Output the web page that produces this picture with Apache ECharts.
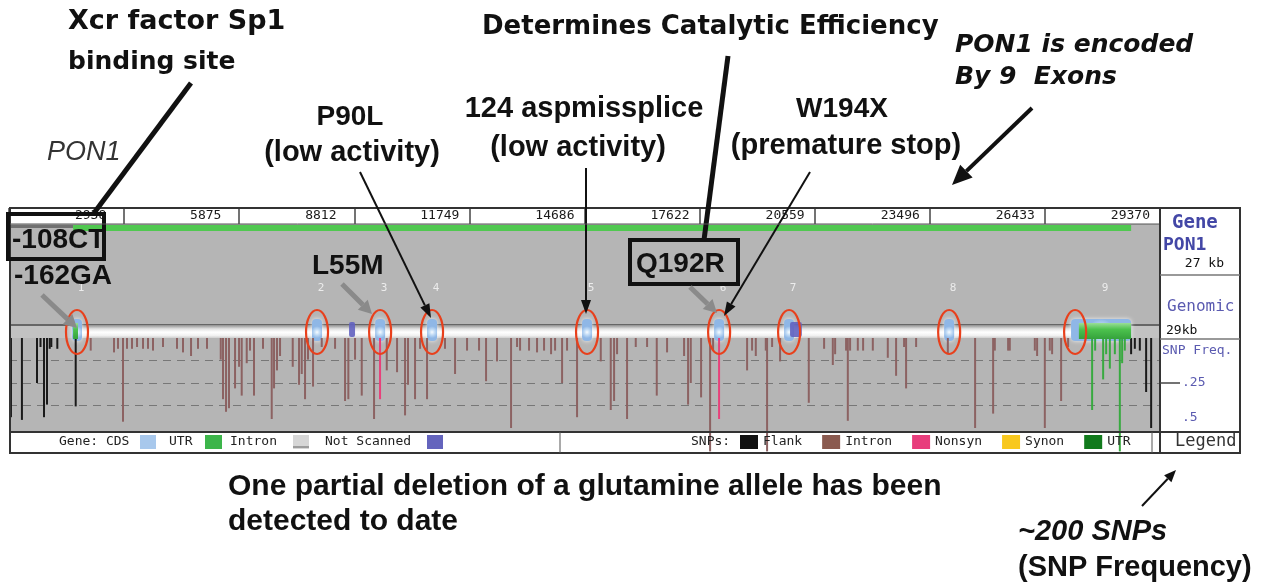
<!DOCTYPE html>
<html><head><meta charset="utf-8">
<script src="https://cdn.jsdelivr.net/npm/echarts@6.0.0/dist/echarts.min.js"></script>
<style>html,body{margin:0;padding:0;background:#fff}#c{width:1277px;height:586px}</style>
</head><body><div id="c"></div><script>
// ---------------- data ----------------
const genomicLength = 29370;
const rulerInterval = 2937;
const rulerLabels = ['', '2938', '5875', '8812', '11749', '14686', '17622', '20559', '23496', '26433', '29370'];
const geneStart = 1635, geneEnd = 28633;
const exonNumbers = ['1','2','3','4','5','6','7','8','9'];
const exonStart = [1635, 7760, 9370, 10695, 14650, 18020, 19800, 23890, 27100];
const exonEnd   = [1835, 7960, 9570, 10895, 14850, 18220, 20010, 24090, 28633];
const utrStart = [1635, 27300];
const utrEnd   = [1760, 28633];
const notScannedStart = [8677, 19930];
const notScannedEnd   = [8830, 20230];
const circledPos = [1735, 7860, 9470, 10795, 14750, 18120, 19906, 23990, 27204];

const flankPos  = [50, 330, 715, 804, 893, 970, 1039, 1080, 1233, 1702, 28633, 28728, 28855, 29016, 29144];
const flankFreq = [0.44, 0.455, 0.25, 0.05, 0.44, 0.37, 0.06, 0.05, 0.06, 0.38, 0.09, 0.06, 0.07, 0.30, 0.50];
const intronPos = [2085,2680,2782,2909,3011,3139,3267,3420,3547,3675,3930,4287,4440,4645,4823,5053,5403,5461,5538,5614,5768,5870,5938,6066,6150,6252,6482,6704,6763,6839,6916,7240,7401,7470,7554,7630,7758,7980,8320,8575,8659,8830,9001,9315,9639,9902,10106,10182,10361,10489,10667,11126,11382,11688,11994,12173,12453,12811,12964,13041,13270,13474,13653,13832,13934,14113,14240,14495,15100,15355,15440,15516,15771,15993,16282,16529,16792,17226,17328,17397,17660,17890,17966,18834,18961,19056,19311,19344,19472,19676,20408,20799,21021,21080,21360,21404,21462,21659,21794,22042,22424,22636,22840,22891,23147,23956,24652,25112,25155,25494,25537,26176,26234,26431,26558,26617,26847,27025];
const intronFreq = [0.07,0.08,0.06,0.465,0.06,0.06,0.05,0.06,0.06,0.07,0.05,0.06,0.08,0.10,0.06,0.06,0.12,0.34,0.41,0.39,0.28,0.16,0.32,0.14,0.07,0.32,0.06,0.45,0.28,0.18,0.10,0.16,0.26,0.20,0.34,0.12,0.27,0.05,0.06,0.35,0.34,0.12,0.32,0.45,0.18,0.19,0.43,0.26,0.34,0.06,0.34,0.06,0.20,0.07,0.07,0.24,0.13,0.50,0.05,0.07,0.07,0.08,0.07,0.09,0.07,0.25,0.07,0.44,0.13,0.40,0.35,0.09,0.45,0.05,0.05,0.32,0.08,0.10,0.37,0.25,0.33,0.63,0.07,0.18,0.07,0.10,0.07,0.63,0.05,0.13,0.36,0.06,0.15,0.09,0.07,0.46,0.07,0.07,0.07,0.07,0.11,0.21,0.05,0.28,0.05,0.09,0.50,0.42,0.07,0.07,0.07,0.07,0.10,0.50,0.07,0.09,0.35,0.05];
const nonsynPos  = [9468, 18119];
const nonsynFreq = [0.34, 0.45];
const synonPos = [];
const synonFreq = [];
const utrSnpPos  = [27638, 27715, 27919, 27996, 28090, 28218, 28345, 28404, 28472];
const utrSnpFreq = [0.40, 0.07, 0.23, 0.09, 0.17, 0.09, 0.63, 0.14, 0.07];

// ---------------- helpers ----------------
const zip = (a, b) => a.map((v, i) => [v, b[i]]);
const MONO = 'DejaVu Sans Mono';
function txt(x, y, s, font, color, align) {
  return {type: 'text', x: x, y: y, z: 100, style: {text: s, font: font, fill: color || '#111',
    align: align || 'left', verticalAlign: 'middle', textAlign: align || 'left', textVerticalAlign: 'middle'}};
}
function seg(x1, y1, x2, y2, color, w) {
  return {type: 'line', z: 100, shape: {x1, y1, x2, y2}, style: {stroke: color, lineWidth: w}};
}
function arrow(x1, y1, x2, y2, color, w, hl, hw) {
  const a = Math.atan2(y2 - y1, x2 - x1);
  const bx = x2 - hl * Math.cos(a), by = y2 - hl * Math.sin(a);
  const px = -Math.sin(a) * hw / 2, py = Math.cos(a) * hw / 2;
  return [seg(x1, y1, bx, by, color, w),
    {type: 'polygon', z: 100, shape: {points: [[x2, y2], [bx + px, by + py], [bx - px, by - py]]}, style: {fill: color}}];
}
function box(x, y, w, h, fill, stroke) {
  return {type: 'rect', z: 100, shape: {x, y, width: w, height: h}, style: {fill: fill || 'none', stroke: stroke || null, lineWidth: 1}};
}

const chart = echarts.init(document.getElementById('c'), null, {renderer: 'canvas'});

const hiddenX = gi => ({gridIndex: gi, type: 'value', min: 0, max: genomicLength, show: false});

const ARIAL = 'bold 28px "Liberation Sans"';
const ARIAL_L = 'bold 29px "Liberation Sans"';
const ARIAL_XL = 'bold 30px "Liberation Sans"';
const BLUE = '#4347a6';

const graphics = [].concat(
  // annotations top
  [txt(68, 22, 'Xcr factor Sp1', 'bold 27px "DejaVu Sans"'),
   txt(68, 62, 'binding site', 'bold 25px "DejaVu Sans"'),
   txt(482, 27, 'Determines Catalytic Efficiency', 'bold 26px "DejaVu Sans"'),
   txt(955, 45, 'PON1 is encoded', 'italic bold 25px "DejaVu Sans"'),
   txt(955, 77, 'By 9  Exons', 'italic bold 25px "DejaVu Sans"'),
   txt(47, 152, 'PON1', 'italic 27px "Liberation Sans"', '#333'),
   txt(350, 117, 'P90L', ARIAL, '#111', 'center'),
   txt(352, 153, '(low activity)', ARIAL_L, '#111', 'center'),
   txt(584, 109, '124 aspmissplice', ARIAL_L, '#111', 'center'),
   txt(578, 148, '(low activity)', ARIAL_L, '#111', 'center'),
   txt(842, 109, 'W194X', ARIAL, '#111', 'center'),
   txt(846, 146, '(premature stop)', ARIAL_L, '#111', 'center'),
   txt(12, 240, '-108CT', ARIAL),
   txt(14, 276, '-162GA', ARIAL),
   txt(312, 266, 'L55M', ARIAL),
   txt(636, 264, 'Q192R', ARIAL),
   txt(228, 487, 'One partial deletion of a glutamine allele has been', ARIAL_XL),
   txt(228, 522, 'detected to date', ARIAL_XL),
   txt(1018, 532, '~200 SNPs', 'italic bold 29px "Liberation Sans"'),
   txt(1018, 568, '(SNP Frequency)', ARIAL_L)],
  [{type: 'rect', z: 100, shape: {x: 8, y: 214, width: 96, height: 45}, style: {fill: 'none', stroke: '#111', lineWidth: 4}},
   {type: 'rect', z: 100, shape: {x: 630, y: 240, width: 108, height: 44}, style: {fill: 'none', stroke: '#111', lineWidth: 4}},
   seg(191, 83, 94, 213, '#111', 5),
   seg(728, 56, 704, 240, '#111', 5)],
  arrow(360, 172, 431, 318, '#111', 2, 14, 10),
  arrow(586, 168, 586, 314, '#111', 2, 14, 10),
  arrow(810, 172, 724, 316, '#111', 2, 14, 10),
  arrow(1032, 108, 952, 185, '#111', 4, 20, 18),
  arrow(42, 295, 77, 328, '#8a8a8a', 5, 13, 14),
  arrow(342, 284, 372, 314, '#8a8a8a', 5, 13, 14),
  arrow(690, 287, 717, 313, '#8a8a8a', 5, 13, 14),
  arrow(1142, 506, 1176, 470, '#111', 2, 12, 10),
  // frame
  [{type: 'rect', z: 90, shape: {x: 10, y: 208, width: 1230, height: 245}, style: {fill: 'none', stroke: '#333', lineWidth: 2}},
   seg(10, 224, 1160, 224, '#555', 1),
   seg(1160, 208, 1160, 453, '#333', 2),
   seg(10, 432, 1240, 432, '#333', 2),
   seg(560, 432, 560, 453, '#555', 1),
   seg(1152, 432, 1152, 453, '#555', 1),
   seg(1160, 275, 1240, 275, '#777', 1.5),
   seg(1160, 339, 1240, 339, '#777', 1.5),
   seg(1160, 383, 1180, 383, '#444', 1.5)],
  // right panel
  [txt(1172, 223, 'Gene', 'bold 19px "' + MONO + '"', BLUE),
   txt(1163, 245, 'PON1', 'bold 18px "' + MONO + '"', BLUE),
   txt(1224, 264, '27 kb', '13px "' + MONO + '"', '#111', 'right'),
   txt(1167, 307, 'Genomic', '16px "' + MONO + '"', '#5a5ab0'),
   txt(1166, 331, '29kb', '13px "' + MONO + '"', '#111'),
   txt(1162, 351, 'SNP Freq.', '13px "' + MONO + '"', '#5a5ab0'),
   txt(1175, 442, 'Legend', '17px "' + MONO + '"', '#333')],
  // gene legend
  [txt(59, 442, 'Gene: CDS', '13px "' + MONO + '"', '#222'),
   box(140, 435, 16, 14, '#a8c8ec'),
   txt(169, 442, 'UTR', '13px "' + MONO + '"', '#222'),
   box(205, 435, 17, 14, '#3cb54a'),
   txt(230, 442, 'Intron', '13px "' + MONO + '"', '#222'),
   box(293, 435, 16, 14, '#d6d6d6'),
   seg(293, 447, 309, 447, '#888', 1.5),
   txt(325, 442, 'Not Scanned', '13px "' + MONO + '"', '#222'),
   box(427, 435, 16, 14, '#6464bd'),
   txt(691, 442, 'SNPs:', '13px "' + MONO + '"', '#222')]
);

function snpSeries(name, pos, freq, color) {
  return {name, type: 'bar', xAxisIndex: 2, yAxisIndex: 2, data: zip(pos, freq), barWidth: 2, barGap: '-100%',
    clip: false, itemStyle: {color: color}, z: 3, animation: false};
}

const option = {
  backgroundColor: '#ffffff',
  animation: false,
  grid: [
    {left: 9, top: 208, width: 1151, height: 16, show: true, backgroundColor: '#ffffff', borderWidth: 0, outerBoundsMode: 'none'},
    {left: 9, top: 224, width: 1151, height: 208, show: true, backgroundColor: '#b5b5b5', borderWidth: 0, outerBoundsMode: 'none'},
    {left: 9, top: 338, width: 1151, height: 90, show: false, outerBoundsMode: 'none'}
  ],
  xAxis: [
    {gridIndex: 0, type: 'value', min: 0, max: genomicLength, interval: rulerInterval, position: 'top',
     axisLine: {show: false}, axisTick: {show: false},
     splitLine: {show: true, lineStyle: {color: '#444', width: 1.5}},
     axisLabel: {inside: true, margin: 8, verticalAlign: 'middle', align: 'right', padding: [0, 10, 0, 0],
       fontFamily: MONO, fontSize: 13, color: '#1a1a1a', showMinLabel: true, showMaxLabel: true, hideOverlap: false,
       formatter: (v, i) => { const s = rulerLabels[i] || ''; return s.length === 4 ? s + '\u00a0' : s; }}},
    hiddenX(1),
    hiddenX(2)
  ],
  yAxis: [
    {gridIndex: 0, type: 'value', show: false},
    {gridIndex: 1, type: 'value', min: 0, max: 1, show: false},
    {gridIndex: 2, type: 'value', min: 0, max: 0.5, interval: 0.125, inverse: true, position: 'right',
     axisLine: {show: false}, axisTick: {show: false},
     splitLine: {show: true, showMinLine: false, showMaxLine: false, lineStyle: {color: '#777', type: [8, 6], width: 1}},
     axisLabel: {show: true, margin: 22, fontFamily: MONO, fontSize: 13, color: '#5a5ab0',
       formatter: v => v === 0.25 ? '.25' : (v === 0.5 ? '{h|.5}' : ''),
       rich: {h: {fontFamily: MONO, fontSize: 13, color: '#5a5ab0', padding: [0, 0, 20, 0]}}}}
  ],
  legend: {left: 740, top: 435, itemWidth: 18, itemHeight: 14, itemGap: 20, icon: 'rect', selectedMode: false,
    padding: 0, textStyle: {fontFamily: MONO, fontSize: 13, color: '#222'},
    data: [{name: 'Flank', itemStyle: {color: '#111'}}, {name: 'Intron', itemStyle: {color: '#8a5a4f'}},
           {name: 'Nonsyn', itemStyle: {color: '#e83d7c'}}, {name: 'Synon', itemStyle: {color: '#f8c81e'}},
           {name: 'UTR', itemStyle: {color: '#117a1c'}}]},
  graphic: graphics,
  series: [
    // green gene bar under ruler
    {type: 'custom', xAxisIndex: 1, yAxisIndex: 1, data: [[geneStart, geneEnd]], silent: true, z: 2,
     renderItem: (params, api) => {
       const top = params.coordSys.y;
       const x0 = api.coord([0, 0])[0];
       const s = api.coord([api.value(0), 0])[0], e = api.coord([api.value(1), 0])[0];
       return {type: 'group', children: [
         {type: 'rect', shape: {x: x0, y: top + 1, width: s - x0, height: 3}, style: {fill: '#707070'}},
         {type: 'rect', shape: {x: s, y: top + 1, width: e - s, height: 6}, style: {fill: '#50c850'}}
       ]};
     }},
    // genomic line + gene tube
    {type: 'custom', xAxisIndex: 2, yAxisIndex: 2, data: [[0, genomicLength, geneStart, geneEnd]], silent: true, z: 2,
     renderItem: (params, api) => {
       const top = params.coordSys.y;
       const x0 = api.coord([api.value(0), 0])[0], x1 = api.coord([api.value(1), 0])[0];
       const s = api.coord([api.value(2), 0])[0], e = api.coord([api.value(3), 0])[0];
       return {type: 'group', children: [
         {type: 'rect', shape: {x: x0, y: top - 13, width: x1 - x0, height: 13}, style: {fill: '#c2c2c2'}},
         {type: 'rect', shape: {x: x0, y: top - 14, width: x1 - x0, height: 2}, style: {fill: '#666'}},
         {type: 'rect', shape: {x: s, y: top - 13, width: e - s, height: 13},
          style: {fill: {type: 'linear', x: 0, y: 0, x2: 0, y2: 1, colorStops: [
            {offset: 0, color: '#8e8e8e'}, {offset: 0.3, color: '#e2e2e2'}, {offset: 0.55, color: '#ffffff'},
            {offset: 0.8, color: '#f2f2f2'}, {offset: 1, color: '#cfcfcf'}]}}}
       ]};
     }},
    // exons
    {type: 'custom', xAxisIndex: 2, yAxisIndex: 2, data: exonStart.map((s, i) => [s, exonEnd[i], exonNumbers[i]]), silent: true, z: 3,
     renderItem: (params, api) => {
       const top = params.coordSys.y;
       const s = api.coord([api.value(0), 0])[0], e = api.coord([api.value(1), 0])[0];
       const w = Math.max(e - s, 10);
       const xs = (s + e) / 2 - (e - s < 10 ? 5 : (e - s) / 2);
       return {type: 'group', children: [
         {type: 'rect', shape: {x: xs, y: top - 19, width: w, height: 22, r: 4},
          style: {fill: {type: 'radial', x: 0.5, y: 0.6, r: 0.6, colorStops: [
            {offset: 0, color: '#f6fbff'}, {offset: 0.45, color: '#c2dcf6'}, {offset: 1, color: '#8fb7e6'}]},
            shadowBlur: 4, shadowColor: 'rgba(255,255,255,0.8)'}},
         {type: 'text', x: (s + e) / 2 + 4, y: top - 50,
          style: {text: String(api.value(2)), font: '11px "' + MONO + '"', fill: '#ececec', align: 'center', verticalAlign: 'middle'}}
       ]};
     }},
    // UTR parts of exons
    {type: 'custom', xAxisIndex: 2, yAxisIndex: 2, data: zip(utrStart, utrEnd), silent: true, z: 4,
     renderItem: (params, api) => {
       const top = params.coordSys.y;
       const s = api.coord([api.value(0), 0])[0], e = api.coord([api.value(1), 0])[0];
       return {type: 'rect', shape: {x: s, y: top - 15, width: Math.max(e - s, 4), height: 16},
         style: {fill: {type: 'linear', x: 0, y: 0, x2: 0, y2: 1, colorStops: [
           {offset: 0, color: '#9ade98'}, {offset: 0.4, color: '#4cc24e'}, {offset: 1, color: '#35a23c'}]}}};
     }},
    // not scanned
    {type: 'custom', xAxisIndex: 2, yAxisIndex: 2, data: zip(notScannedStart, notScannedEnd), silent: true, z: 4,
     renderItem: (params, api) => {
       const top = params.coordSys.y;
       const s = api.coord([api.value(0), 0])[0], e = api.coord([api.value(1), 0])[0];
       return {type: 'rect', shape: {x: s, y: top - 16, width: Math.max(e - s, 4), height: 15, r: 2},
         style: {fill: '#6262c0', opacity: 0.9}};
     }},
    // red circles
    {type: 'custom', xAxisIndex: 2, yAxisIndex: 2, data: circledPos.map(p => [p]), silent: true, z: 6,
     renderItem: (params, api) => {
       const top = params.coordSys.y;
       const c = api.coord([api.value(0), 0])[0];
       return {type: 'ellipse', shape: {cx: c, cy: top - 6, rx: 11, ry: 22},
         style: {fill: 'none', stroke: '#e8401c', lineWidth: 2.2}};
     }},
    snpSeries('Flank', flankPos, flankFreq, '#1a1a1a'),
    snpSeries('Intron', intronPos, intronFreq, '#8c6262'),
    snpSeries('Nonsyn', nonsynPos, nonsynFreq, '#e8407a'),
    snpSeries('Synon', synonPos, synonFreq, '#f7c61c'),
    snpSeries('UTR', utrSnpPos, utrSnpFreq, '#38aa40')
  ]
};
chart.setOption(option);
</script></body></html>
